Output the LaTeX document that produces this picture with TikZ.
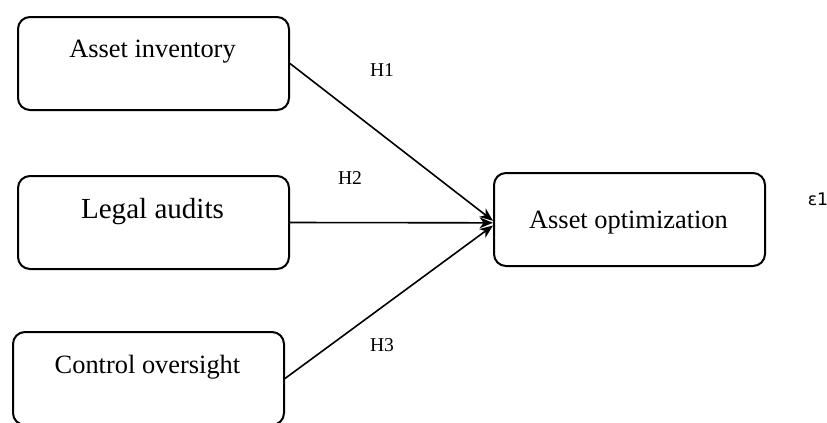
\documentclass[tikz,border=0pt]{standalone}
\usepackage{fontspec}
\setmainfont{Liberation Serif}
\newfontfamily\epsfont{DejaVu Sans}
\usetikzlibrary{arrows.meta}
\begin{document}
\begin{tikzpicture}[x=0.75pt,y=-0.75pt,
  boxstyle/.style={draw, line width=1.5pt, rounded corners=9pt, minimum width=271*0.75pt, minimum height=93*0.75pt, inner sep=0pt, anchor=north west},
  txt/.style={inner sep=0pt, anchor=base, font=\fontsize{19.8pt}{22pt}\selectfont},
  hlab/.style={inner sep=0pt, anchor=base, font=\fontsize{14.7pt}{16pt}\selectfont},
  conn/.style={line width=1.2pt, -{Stealth[length=10pt,width=8pt,inset=3pt]}}]
\clip (0,0) rectangle (827,422);
\node[boxstyle] (b1) at (17,16) {};
\node[boxstyle] (b2) at (17,175) {};
\node[boxstyle] (b3) at (12,331) {};
\node[boxstyle] (b4) at (493,172) {};
\node[txt] (t1) at (152.5,57) {Asset inventory};
\node[txt, font=\fontsize{21.8pt}{24pt}\selectfont] (t2) at (152.5,218) {Legal audits};
\node[txt] (t3) at (147.5,373) {Control oversight};
\node[txt] (t4) at (628.5,228) {Asset optimization};
\node[hlab] (h1) at (382,76) {H1};
\node[hlab] (h2) at (350,184) {H2};
\node[hlab] (h3) at (382,351) {H3};
\node[inner sep=0pt, anchor=base, font=\epsfont\fontsize{13pt}{15pt}\selectfont] (eps) at (818,205) {ε1};
\draw[conn] (b1.east) -- ([yshift=-1pt]b4.west);
\draw[conn] (b2.east) -- ([yshift=-2.5pt]b4.west);
\draw[conn] (b3.east) -- ([yshift=-4.5pt]b4.west);
\end{tikzpicture}
\end{document}
